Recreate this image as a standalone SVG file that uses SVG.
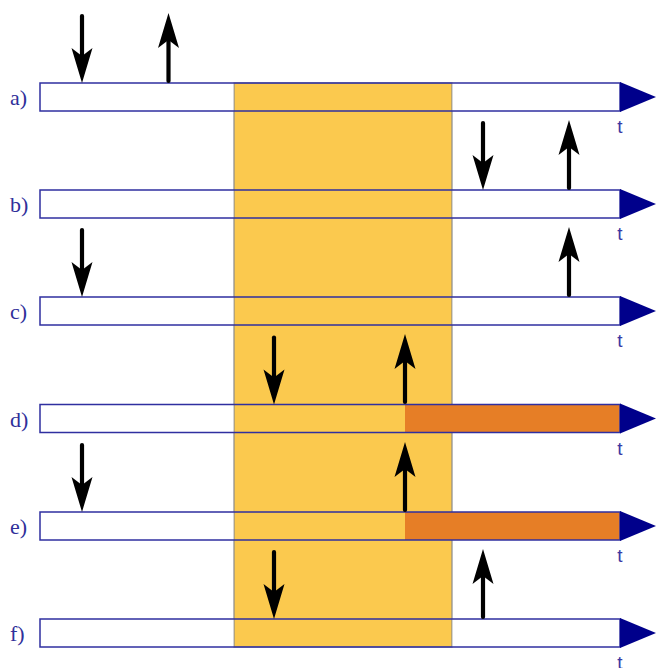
<svg xmlns="http://www.w3.org/2000/svg" xmlns:xlink="http://www.w3.org/1999/xlink" width="656" height="668" viewBox="0 0 656 668">
  <style>
    .bar-bg { fill: #ffffff; stroke: none; }
    .bar-line { fill: none; stroke: #2f2fa0; stroke-width: 1.5; }
    .fill-late { fill: #e67e26; stroke: none; }
    .head { fill: #00008b; }
    .label { font-family: "Liberation Serif", "DejaVu Serif", serif; font-size: 22px; fill: #30309a; }
    .tlabel { font-family: "Liberation Sans", Arial, sans-serif; font-size: 19px; fill: #3a3aa4; text-anchor: middle; }
    .band { fill: #fbc94e; stroke: #8a8a8a; stroke-width: 1.2; }
    .shaft { stroke: #000000; stroke-width: 4.2; stroke-linecap: round; }
    .tip { fill: #000000; }
  </style>
  <defs>
    <!-- event arrows, tip at the origin -->
    <g id="arrow-down">
      <line class="shaft" x1="0" y1="-67" x2="0" y2="-24"/>
      <path class="tip" d="M0,0 L-10.5,-35 L0,-27 L10.5,-35 Z"/>
    </g>
    <g id="arrow-up">
      <line class="shaft" x1="0" y1="68" x2="0" y2="24"/>
      <path class="tip" d="M0,0 L-10.5,35 L0,27 L10.5,35 Z"/>
    </g>
  </defs>

  <!-- highlighted interval spanning all time lines -->
  <g id="interval">
    <rect class="band" x="234" y="83" width="218" height="564"/>
  </g>

  <g id="row-a">
    <rect class="bar-bg" x="40" y="83" width="193.4" height="28"/>
    <rect class="bar-bg" x="452.6" y="83" width="167.4" height="28"/>
    <rect class="bar-line" x="40" y="83" width="580" height="28"/>
    <polygon class="head" points="620,82 656,97 620,112"/>
    <text class="label" x="10" y="105">a)</text>
    <text class="tlabel" x="620" y="133">t</text>
    <use xlink:href="#arrow-down" x="82" y="83"/>
    <use xlink:href="#arrow-up" x="168.5" y="13"/>
  </g>

  <g id="row-b">
    <rect class="bar-bg" x="40" y="190" width="193.4" height="28"/>
    <rect class="bar-bg" x="452.6" y="190" width="167.4" height="28"/>
    <rect class="bar-line" x="40" y="190" width="580" height="28"/>
    <polygon class="head" points="620,189 656,204 620,219"/>
    <text class="label" x="10" y="212">b)</text>
    <text class="tlabel" x="620" y="240">t</text>
    <use xlink:href="#arrow-down" x="483" y="190"/>
    <use xlink:href="#arrow-up" x="569" y="120"/>
  </g>

  <g id="row-c">
    <rect class="bar-bg" x="40" y="297" width="193.4" height="28"/>
    <rect class="bar-bg" x="452.6" y="297" width="167.4" height="28"/>
    <rect class="bar-line" x="40" y="297" width="580" height="28"/>
    <polygon class="head" points="620,296 656,311 620,326"/>
    <text class="label" x="10" y="319">c)</text>
    <text class="tlabel" x="620" y="347">t</text>
    <use xlink:href="#arrow-down" x="82" y="297"/>
    <use xlink:href="#arrow-up" x="569" y="227"/>
  </g>

  <g id="row-d">
    <rect class="bar-bg" x="40" y="404.5" width="193.4" height="28"/>
    <rect class="fill-late" x="405" y="404.5" width="215" height="28"/>
    <rect class="bar-line" x="40" y="404.5" width="580" height="28"/>
    <polygon class="head" points="620,403.5 656,418.5 620,433.5"/>
    <text class="label" x="10" y="426.5">d)</text>
    <text class="tlabel" x="620" y="455">t</text>
    <use xlink:href="#arrow-down" x="274" y="404.5"/>
    <use xlink:href="#arrow-up" x="405" y="334"/>
  </g>

  <g id="row-e">
    <rect class="bar-bg" x="40" y="512" width="193.4" height="28"/>
    <rect class="fill-late" x="405" y="512" width="215" height="28"/>
    <rect class="bar-line" x="40" y="512" width="580" height="28"/>
    <polygon class="head" points="620,511 656,526 620,541"/>
    <text class="label" x="10" y="534">e)</text>
    <text class="tlabel" x="620" y="562">t</text>
    <use xlink:href="#arrow-down" x="82" y="512"/>
    <use xlink:href="#arrow-up" x="405" y="442"/>
  </g>

  <g id="row-f">
    <rect class="bar-bg" x="40" y="619" width="193.4" height="28"/>
    <rect class="bar-bg" x="452.6" y="619" width="167.4" height="28"/>
    <rect class="bar-line" x="40" y="619" width="580" height="28"/>
    <polygon class="head" points="620,618 656,633 620,648"/>
    <text class="label" x="10" y="641">f)</text>
    <text class="tlabel" x="620" y="669">t</text>
    <use xlink:href="#arrow-down" x="274" y="619"/>
    <use xlink:href="#arrow-up" x="483" y="549"/>
  </g>
</svg>
